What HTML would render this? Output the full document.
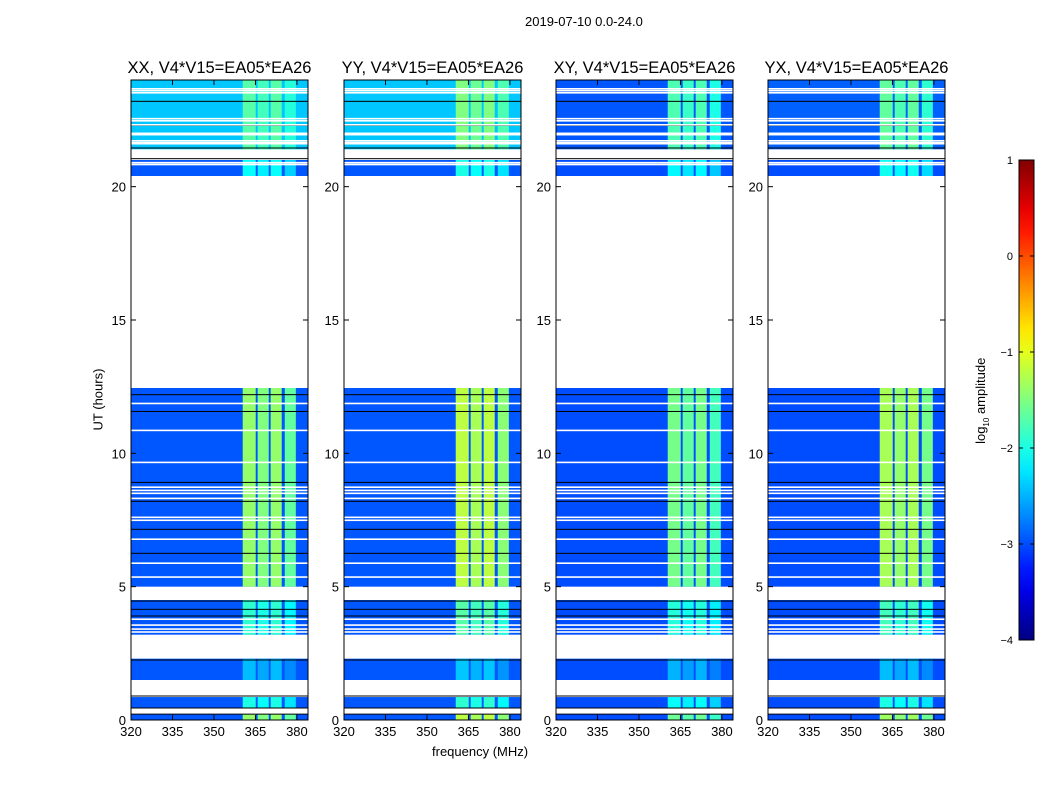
<!DOCTYPE html>
<html><head><meta charset="utf-8">
<style>
body{margin:0;background:#fff;font-family:"Liberation Sans",sans-serif;}
#wrap{position:relative;width:1050px;height:800px;overflow:hidden;background:#fff;}
.t{position:absolute;font-size:13px;color:#000;white-space:nowrap;}
</style></head><body>
<div id="wrap">
<div class="t" style="left:525px;top:14px;">2019-07-10 0.0-24.0</div>
<div class="t" style="left:432px;top:744px;">frequency (MHz)</div>
<div class="t" style="left:53px;top:392px;transform:rotate(-90deg);transform-origin:center;width:90px;text-align:center;">UT (hours)</div>
<div class="t" style="left:932px;top:392px;transform:rotate(-90deg);width:100px;text-align:center;">log<sub style="font-size:8px">10</sub> amplitude</div>
<svg id="svg" width="1050" height="800" style="position:absolute;left:0;top:0;"></svg>
</div>
<script>
// ---- data ----
const panelNames = ["XX","YY","XY","YX"];
const panelLeft = [131,344,556,768];
// data segments in UT hours [start,end]
const segStart = [0.0, 0.45, 1.5, 3.2, 5.0, 20.4, 21.4];
const segEnd   = [0.22, 0.86, 2.3, 4.5, 12.45, 21.0, 24.0];
// background log10 amplitude per segment, per panel
const bgXX = [-2.95,-2.95,-2.95,-2.95,-2.95,-2.95,-2.4];
const bgYY = [-2.95,-2.95,-2.95,-2.95,-2.95,-2.95,-2.4];
const bgXY = [-3.0,-3.0,-3.0,-3.0,-3.0,-3.0,-2.95];
const bgYX = [-3.0,-3.0,-3.0,-3.0,-3.0,-3.0,-2.9];
// RFI band levels per segment, per panel
const bandXX = [-1.4,-2.0,-2.45,-1.9,-1.4,-2.1,-1.7];
const bandYY = [-1.2,-1.9,-2.4,-1.7,-1.2,-2.0,-1.5];
const bandXY = [-1.6,-2.1,-2.5,-1.95,-1.55,-2.15,-1.75];
const bandYX = [-1.35,-2.0,-2.45,-1.8,-1.3,-2.05,-1.65];
// sub-bands (MHz)
const subStart = [360.4, 365.8, 370.5, 375.6];
const subEnd   = [365.1, 369.8, 374.5, 379.6];
const subOffset = [0.0, -0.1, 0.0, -0.25];
// flagged (white) rows and dark rows, hours
const whiteRows = [23.67,23.6,23.52,22.55,22.47,22.32,22.0,21.95,21.72,21.65,21.61,20.9,20.83,11.87,10.86,9.66,8.73,8.61,8.5,8.31,7.6,7.49,6.78,5.88,5.36,3.78,3.56,3.41,3.3,1.25];
const darkRows = [23.2,22.3,21.45,21.05,12.2,11.57,8.91,8.2,7.15,6.25,4.46,4.15,3.9,2.25,0.9,0.45,0.22];
const xTicks = [320,335,350,365,380];
const yTicks = [0,5,10,15,20];
const cbTicks = [1,0,-1,-2,-3,-4];
// ---- scales ----
const PW=177, PT=80, PB=720;
const fMin=320, fMax=384;
function xs(f){return (f-fMin)/(fMax-fMin)*PW;}
function ys(h){return PB-PT-(h/24)*(PB-PT);}
function jet(v){const t=Math.max(0,Math.min(1,(v+4)/5));const c=x=>Math.round(255*Math.max(0,Math.min(1,1.5-Math.abs(x))));return `rgb(${c(4*t-3)},${c(4*t-2)},${c(4*t-1)})`;}
const svg=document.getElementById('svg');const NS='http://www.w3.org/2000/svg';
function mk(tag,attrs,parent){const e=document.createElementNS(NS,tag);for(const k in attrs)e.setAttribute(k,attrs[k]);(parent||svg).appendChild(e);return e;}
const bgs=[bgXX,bgYY,bgXY,bgYX], bands=[bandXX,bandYY,bandXY,bandYX];
panelNames.forEach((nm,p)=>{
  const L=panelLeft[p];
  const g=mk('g',{transform:`translate(${L},${PT})`});
  
  
  segStart.forEach((s,i)=>{
    const y0=ys(segEnd[i]), y1=ys(s);
    const r=mk('rect',{x:0,y:y0,width:PW,height:y1-y0,fill:jet(bgs[p][i])},g);
    
    
    subStart.forEach((f,j)=>{
      const b=mk('rect',{x:xs(f),y:y0,width:xs(subEnd[j])-xs(f),height:y1-y0,fill:jet(bands[p][i]+subOffset[j])},g);
      
      
    });
  });
  darkRows.forEach(h=>{const l=mk('rect',{x:0,y:ys(h)-0.5,width:PW,height:1,fill:'#000'},g);
    
    });
  whiteRows.forEach(h=>{const l=mk('rect',{x:0,y:ys(h)-0.8,width:PW,height:1.6,fill:'#fff'},g);
    
    });
  mk('rect',{x:0,y:0,width:PW,height:PB-PT,fill:'none',stroke:'#000','stroke-width':1},g);
  xTicks.forEach(f=>{const x=xs(f);
    mk('line',{x1:x,x2:x,y1:PB-PT,y2:PB-PT-5,stroke:'#000'},g);
    mk('line',{x1:x,x2:x,y1:0,y2:5,stroke:'#000'},g);
    const t=mk('text',{x:x,y:PB-PT+16,'text-anchor':'middle','font-size':13,'font-family':'Liberation Sans'},g);t.textContent=f;
    
    });
  yTicks.forEach(h=>{const y=ys(h);
    mk('line',{x1:0,x2:5,y1:y,y2:y,stroke:'#000'},g);
    mk('line',{x1:PW,x2:PW-5,y1:y,y2:y,stroke:'#000'},g);
    const t=mk('text',{x:-5,y:y+5,'text-anchor':'end','font-size':13,'font-family':'Liberation Sans'},g);t.textContent=h;
    
    });
  const tt=mk('text',{x:PW/2,y:-7,'text-anchor':'middle','font-size':16.5,'font-family':'Liberation Sans'},g);
  tt.textContent=nm+', V4*V15=EA05*EA26';
  
  
});
// colorbar
const defs=mk('defs',{});const lg=mk('linearGradient',{id:'jg',x1:0,y1:1,x2:0,y2:0},defs);
for(let i=0;i<=20;i++){mk('stop',{offset:i/20,'stop-color':jet(-4+5*i/20)},lg);}
const cb=mk('rect',{x:1019,y:160,width:15,height:480,fill:'url(#jg)',stroke:'#000','stroke-width':1});


cbTicks.forEach(v=>{const y=160+(1-v)/5*480;
  mk('line',{x1:1019,x2:1023,y1:y,y2:y,stroke:'#000'});
  mk('line',{x1:1034,x2:1030,y1:y,y2:y,stroke:'#000'});
  const t=mk('text',{x:1013,y:y+4,'text-anchor':'end','font-size':11,'font-family':'Liberation Sans'});
  t.textContent=(v<0?'\u2212'+(-v):v);
  
  });
</script>
</body></html>
